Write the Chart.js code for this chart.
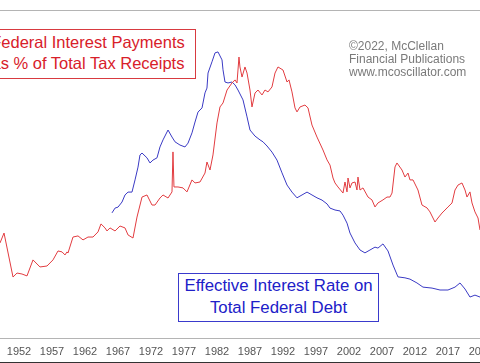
<!DOCTYPE html>
<html>
<head>
<meta charset="utf-8">
<script src="https://cdn.jsdelivr.net/npm/chart.js@4"></script>
<style>
  html, body { margin: 0; padding: 0; background: #fff; }
  body { width: 480px; height: 363px; overflow: hidden; font-family: "Liberation Sans", Arial, sans-serif; }
  #wrap { position: relative; width: 480px; height: 362px; border-bottom: 1px solid #333; }
  #wrap canvas { position: absolute; left: 0; top: 0; }
  .box { position: absolute; background: #fff; text-align: center; white-space: nowrap; }
  #redBox { left: -20px; top: 29px; width: 214px; height: 46px; border: 1px solid #d83a40;
            color: #d8202a; font-size: 16.5px; line-height: 21px; padding-top: 2px; box-sizing: content-box; }
  #blueBox { left: 178px; top: 273px; width: 199px; height: 46px; border: 1px solid #3a3acc;
             color: #2020c8; font-size: 16.8px; line-height: 22px; padding-top: 1px; }
  #credit { position: absolute; left: 349px; top: 40px; color: #7a7a7a; font-size: 12px; line-height: 13px; }
</style>
</head>
<body>
<div id="wrap">
  <canvas id="debtChart"></canvas>
  <div class="box" id="redBox">Federal Interest Payments<br>as % of Total Tax Receipts</div>
  <div class="box" id="blueBox">Effective Interest Rate on<br>Total Federal Debt</div>
  <div id="credit">©2022, McClellan<br>Financial Publications<br>www.mcoscillator.com</div>
</div>
<script>
// year tick labels along the bottom
const tickYears = [1952, 1957, 1962, 1967, 1972, 1977, 1982, 1987, 1992, 1997, 2002, 2007, 2012, 2017, 2022];

// Federal interest payments as % of tax receipts
const redYears = [1949.12, 1949.73, 1951.09, 1951.70, 1952.45, 1953.21, 1954.12, 1955.18, 1956.24, 1957.15,
  1957.91, 1958.52, 1958.97, 1959.27, 1959.42, 1960.18, 1960.94, 1961.70, 1962.45, 1963.21,
  1963.97, 1964.42, 1965.03, 1965.33, 1965.79, 1966.55, 1967.30, 1968.06, 1968.52, 1969.27,
  1969.88, 1970.64, 1971.39, 1972.15, 1972.61, 1973.36, 1973.82, 1974.58, 1975.18, 1975.33,
  1975.48, 1976.09, 1976.85, 1977.45, 1978.21, 1978.67, 1979.42, 1980.18, 1980.48, 1980.94,
  1981.39, 1982.00, 1982.45, 1982.91, 1983.52, 1984.27, 1984.73, 1985.03, 1985.33, 1985.48,
  1985.79, 1986.24, 1986.55, 1987.00, 1987.30, 1987.76, 1988.21, 1988.82, 1989.27, 1989.73,
  1990.33, 1990.79, 1991.24, 1992.00, 1992.61, 1992.91, 1993.36, 1993.82, 1994.12, 1994.58,
  1995.33, 1995.79, 1996.39, 1997.15, 1998.06, 1998.67, 1999.12, 1999.58, 1999.88, 2000.33,
  2001.09, 2001.39, 2001.70, 2001.85, 2002.15, 2002.45, 2002.91, 2003.21, 2003.36, 2003.67,
  2004.12, 2004.88, 2005.48, 2005.94, 2006.39, 2007.15, 2007.76, 2008.21, 2008.52, 2008.97,
  2009.27, 2010.03, 2010.48, 2010.94, 2011.24, 2011.70, 2012.45, 2013.06, 2013.82, 2014.27,
  2015.03, 2015.48, 2016.09, 2016.55, 2017.00, 2017.61, 2018.06, 2018.52, 2019.12, 2019.58,
  2019.88, 2020.33, 2020.64, 2021.09, 2021.55, 2021.85];
const redValues = [7.94, 8.56, 5.81, 6.06, 6.00, 5.88, 6.88, 6.44, 6.50, 6.88,
  7.44, 7.38, 7.19, 7.38, 7.31, 8.31, 8.38, 8.13, 8.31, 8.31,
  8.63, 9.13, 8.88, 8.69, 8.88, 8.69, 9.00, 8.88, 8.44, 8.25,
  9.56, 10.81, 10.94, 10.31, 10.31, 10.75, 10.94, 10.75, 11.13, 13.63,
  11.44, 11.44, 11.38, 11.13, 11.88, 11.69, 11.75, 12.31, 13.00, 12.50,
  13.44, 15.44, 16.44, 16.69, 17.50, 17.94, 18.13, 17.94, 19.56, 18.94,
  18.31, 18.94, 18.56, 17.50, 16.44, 17.31, 17.50, 17.19, 17.50, 17.38,
  17.69, 18.56, 18.94, 18.75, 18.00, 18.13, 17.38, 16.38, 16.13, 16.44,
  16.56, 16.38, 15.31, 14.56, 13.75, 13.13, 12.81, 12.00, 11.69, 11.44,
  11.06, 11.75, 11.13, 12.00, 11.38, 11.69, 11.75, 11.25, 12.06, 11.25,
  11.38, 10.81, 10.63, 10.19, 10.44, 10.63, 10.81, 10.81, 11.06, 12.69,
  12.94, 12.50, 12.06, 12.31, 11.88, 11.88, 11.25, 10.31, 10.13, 9.88,
  9.25, 9.50, 9.81, 10.00, 10.19, 10.44, 11.25, 11.56, 11.69, 11.25,
  10.81, 11.13, 10.44, 9.88, 9.50, 8.75];

// Effective interest rate on total federal debt
const blueYears = [1966.09, 1966.55, 1967.00, 1967.61, 1968.06, 1968.52, 1969.12, 1969.58, 1970.03, 1970.33,
  1970.64, 1971.39, 1971.85, 1972.30, 1972.91, 1973.36, 1973.82, 1974.58, 1975.18, 1975.64,
  1976.39, 1977.15, 1977.61, 1978.21, 1978.67, 1979.12, 1979.73, 1980.18, 1980.48, 1980.64,
  1981.24, 1981.70, 1982.15, 1982.76, 1982.91, 1983.21, 1983.67, 1984.27, 1984.73, 1985.18,
  1985.94, 1986.55, 1987.00, 1987.76, 1988.52, 1988.97, 1989.58, 1990.33, 1991.09, 1991.85,
  1992.61, 1993.36, 1994.12, 1994.88, 1995.64, 1996.39, 1997.15, 1997.91, 1998.67, 1999.12,
  1999.88, 2000.64, 2001.09, 2001.70, 2002.15, 2002.91, 2003.67, 2004.42, 2005.18, 2005.94,
  2006.39, 2007.15, 2007.91, 2008.67, 2009.42, 2010.48, 2011.24, 2012.30, 2013.21, 2014.58,
  2015.79, 2017.00, 2018.06, 2018.82, 2019.58, 2020.33, 2021.09, 2021.85];
const blueValues = [3.91, 4.06, 4.09, 4.25, 4.47, 4.56, 4.56, 4.94, 5.34, 5.72,
  5.78, 5.63, 5.47, 5.56, 5.63, 5.97, 6.19, 6.50, 6.28, 6.13,
  6.03, 5.97, 6.09, 6.41, 6.75, 7.06, 7.19, 7.66, 7.81, 8.28,
  8.63, 8.91, 8.94, 8.69, 8.38, 8.00, 7.97, 8.00, 7.91, 7.75,
  7.44, 6.91, 6.50, 6.31, 6.19, 6.13, 6.00, 5.81, 5.56, 5.16,
  4.78, 4.56, 4.38, 4.47, 4.56, 4.47, 4.38, 4.31, 4.19, 4.06,
  4.00, 3.97, 3.84, 3.59, 3.28, 2.97, 2.75, 2.66, 2.75, 2.84,
  2.81, 2.94, 2.72, 2.28, 1.91, 1.88, 1.84, 1.72, 1.59, 1.56,
  1.50, 1.50, 1.59, 1.72, 1.53, 1.28, 1.34, 1.28];

function toPoints(xs, ys) {
    return xs.map((x, i) => ({ x: x, y: ys[i] }));
}

Chart.defaults.font.family = '"Liberation Sans", Arial, sans-serif';

const ctx = document.getElementById('debtChart').getContext('2d');
new Chart(ctx, {
    type: 'line',
    data: {
        datasets: [
            {
                label: 'Federal Interest Payments as % of Total Tax Receipts',
                data: toPoints(redYears, redValues),
                yAxisID: 'yRed',
                borderColor: '#e23c40',
                borderWidth: 1,
                pointRadius: 0,
                tension: 0
            },
            {
                label: 'Effective Interest Rate on Total Federal Debt',
                data: toPoints(blueYears, blueValues),
                yAxisID: 'yBlue',
                borderColor: '#3a3ac4',
                borderWidth: 1,
                pointRadius: 0,
                tension: 0
            }
        ]
    },
    options: {
        responsive: true,
        maintainAspectRatio: false,
        animation: false,
        layout: { padding: { top: 10, left: 0, right: 0, bottom: 0 } },
        plugins: {
            legend: { display: false },
            tooltip: { enabled: false }
        },
        scales: {
            x: {
                type: 'linear',
                position: 'bottom',
                min: 1949.12,
                max: 2021.85,
                grid: { display: false, drawTicks: false },
                border: { display: true, color: '#b4b4b4', width: 1 },
                ticks: {
                    color: '#555',
                    font: { size: 11 },
                    padding: 7,
                    maxRotation: 0,
                    autoSkip: false,
                    callback: v => String(v)
                },
                afterBuildTicks: axis => { axis.ticks = tickYears.map(v => ({ value: v })); },
                afterFit: axis => { axis.height = 24; axis.paddingLeft = 0; axis.paddingRight = 0; }
            },
            xTop: {
                type: 'linear',
                position: 'top',
                min: 0,
                max: 1,
                grid: { display: false, drawTicks: false },
                border: { display: true, color: '#b4b4b4', width: 1 },
                ticks: { display: false },
                afterFit: axis => { axis.height = 0; }
            },
            yRed: { display: false, min: 2, max: 22.5 },
            yBlue: { display: false, min: 0, max: 10.25 }
        }
    }
});
</script>
</body>
</html>
